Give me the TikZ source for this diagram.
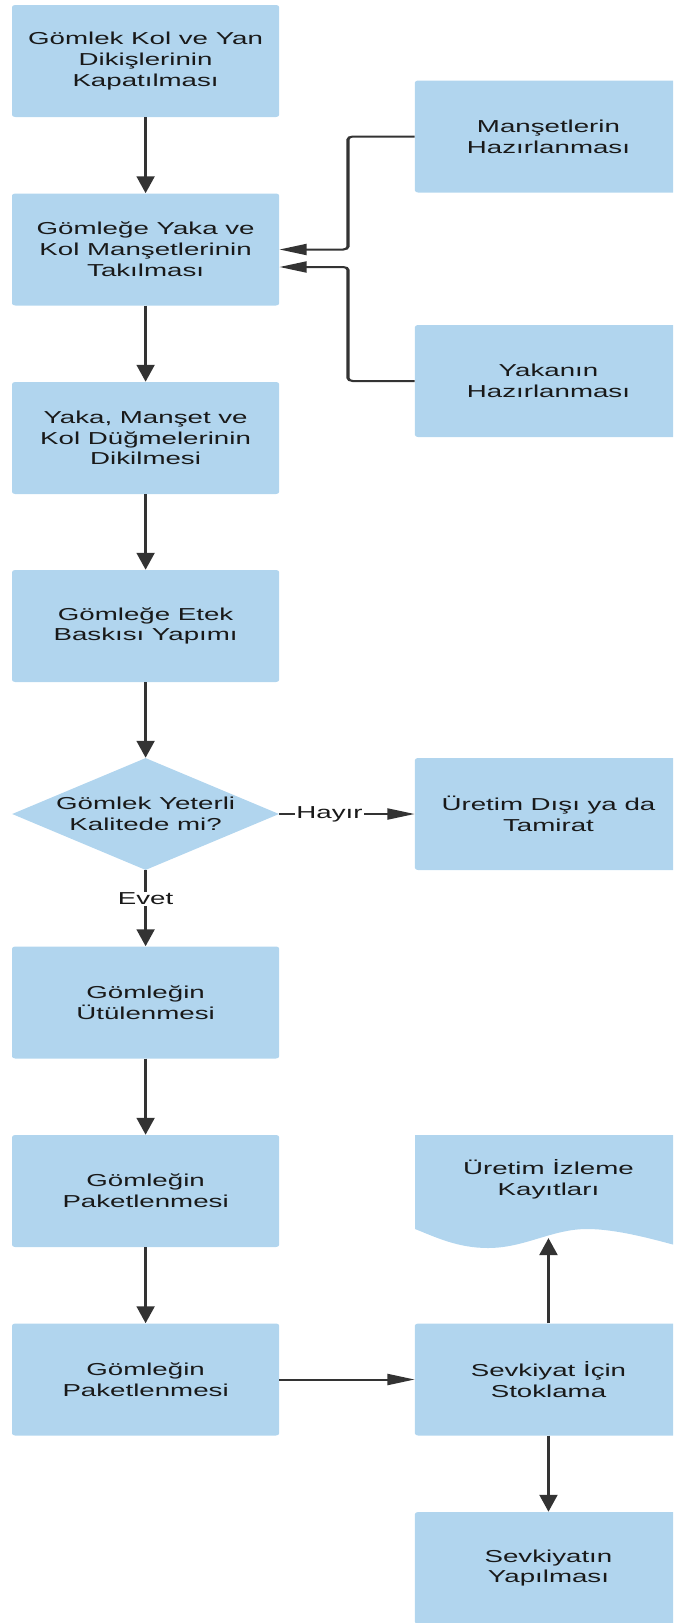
\documentclass[tikz,border=0pt]{standalone}
\usepackage{fontspec}
\setmainfont{Liberation Sans}
\usetikzlibrary{arrows.meta,shapes.geometric}
\definecolor{boxblue}{RGB}{177,213,238}
\definecolor{linegray}{RGB}{51,51,51}
\definecolor{txt}{RGB}{25,25,25}
\begin{document}
\begin{tikzpicture}
\useasboundingbox (0,0) rectangle (673pt,-1623pt);
\clip (0,0) rectangle (673pt,-1623pt);
\begin{scope}[transform canvas={xscale=1.6}, x=1pt, y=-1pt,
  txtfont/.style={text=txt, font=\fontsize{17.3}{20.8}\selectfont},
  box/.style={rectangle, rounded corners=2pt, fill=boxblue, minimum width=166.9pt,
    minimum height=112pt, inner sep=0pt, align=center, txtfont},
  decision/.style={diamond, fill=boxblue, minimum width=166.9pt, minimum height=112pt,
    inner sep=0pt, shape aspect=1.49, align=center, txtfont},
  plain/.style={inner sep=0pt, align=center, txtfont},
  arr/.style={draw=linegray, line width=2pt, -{Triangle[length=17pt,width=11pt]}},
  lbl/.style={fill=white, inner sep=0.8pt, txtfont}]

% left column
\node[box] (b1) at (91,61) {Gömlek Kol ve Yan\\Dikişlerinin\\Kapatılması};
\node[box] (b2) at (91,249.5) {Gömleğe Yaka ve\\Kol Manşetlerinin\\Takılması};
\node[box] (b3) at (91,438) {Yaka, Manşet ve\\Kol Düğmelerinin\\Dikilmesi};
\node[box] (b4) at (91,626) {Gömleğe Etek\\Baskısı Yapımı};
\node[decision] (dq) at (91,814) {Gömlek Yeterli\\Kalitede mi?};
\node[box] (b5) at (91,1002.5) {Gömleğin\\Ütülenmesi};
\node[box] (b6) at (91,1191) {Gömleğin\\Paketlenmesi};
\node[box] (b7) at (91,1379.5) {Gömleğin\\Paketlenmesi};

% right column
\node[box] (m) at (342.8,136.5) {Manşetlerin\\Hazırlanması};
\node[box] (y) at (342.8,381) {Yakanın\\Hazırlanması};
\node[box] (u) at (342.8,814) {Üretim Dışı ya da\\Tamirat};
\fill[boxblue] (259.4,1135) -- (426.3,1135) -- (426.3,1247)
  .. controls (410,1240) and (386,1229) .. (366.9,1229)
  .. controls (345,1229) and (328,1248) .. (305,1248)
  .. controls (286,1248) and (272,1237) .. (259.4,1229) -- cycle;
\node[plain] (uiz) at (342.8,1179) {Üretim İzleme\\Kayıtları};
\coordinate (uizb) at (342.8,1238);
\node[box] (s) at (342.8,1379.5) {Sevkiyat İçin\\Stoklama};
\node[box] (sy) at (342.8,1568) {Sevkiyatın\\Yapılması};

% connectors
\draw[arr] (b1.south) -- (b2.north);
\draw[arr] (b2.south) -- (b3.north);
\draw[arr] (b3.south) -- (b4.north);
\draw[arr] (b4.south) -- (dq.north);
\draw[arr] (dq.south) -- node[lbl, pos=0.38] {Evet} (b5.north);
\draw[arr] (dq.east) -- node[lbl, pos=0.37] {Hayır} (u.west);
\draw[arr] (b5.south) -- (b6.north);
\draw[arr] (b6.south) -- (b7.north);
\draw[arr] (b7.east) -- (s.west);
\draw[arr] (s.north) -- (uizb);
\draw[arr] (s.south) -- (sy.north);

\coordinate (j1) at (217.5,249.5);
\coordinate (j2) at (217.5,267);
\draw[arr, rounded corners=3pt] (m.west) -| (j1) -- (b2.east);
\draw[arr, rounded corners=3pt] (y.west) -| (j2) -- (b2.east |- j2);
\end{scope}
\end{tikzpicture}
\end{document}
